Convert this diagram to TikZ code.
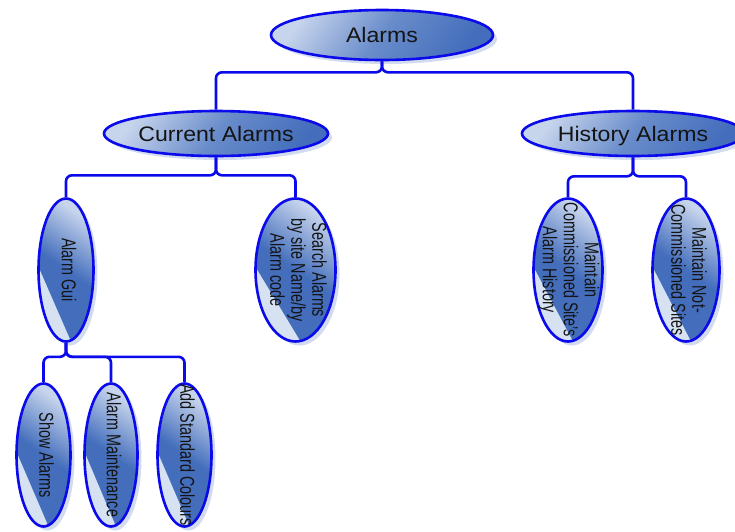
\documentclass[tikz,border=0pt]{standalone}
\usepackage{fontspec}
\setmainfont{Liberation Sans}
\usetikzlibrary{shapes.geometric,shadows}
\definecolor{bordc}{RGB}{10,10,235}
\definecolor{ltc}{RGB}{198,212,236}
\definecolor{mdc}{RGB}{105,140,202}
\definecolor{dkc}{RGB}{68,110,188}
\definecolor{shc}{RGB}{210,220,238}
\definecolor{hlc}{RGB}{214,225,242}
\definecolor{txtc}{RGB}{20,20,20}
\newcommand\htext{\fontsize{21}{25}\selectfont}
\newcommand\vtext{\fontsize{20}{21}\selectfont}
\newcommand\hwide[1]{\scalebox{1.1}[1]{#1}}
\newcommand\vlines[1]{\scalebox{0.72}[1]{\begin{tabular}{@{}c@{}}#1\end{tabular}}}
\begin{document}
\begin{tikzpicture}[x=1pt,y=-1pt,
 oval/.style={ellipse, draw=bordc, line width=2.6pt, inner sep=0pt,
   drop shadow={shadow xshift=4pt, shadow yshift=-4pt, fill=shc, opacity=1}},
 hoval/.style={oval, top color=ltc, bottom color=dkc, middle color=mdc, shading angle=55,
   font=\htext, text=txtc, text height=15pt, text depth=0pt},
 voval/.style={oval, top color=ltc, bottom color=dkc, middle color=dkc, shading angle=-35,
   path picture={\fill[hlc] ([yshift=3pt]path picture bounding box.west)
     -- ([xshift=5pt]path picture bounding box.south)
     -- ([xshift=-10pt,yshift=-10pt]path picture bounding box.south west) -- cycle;}},
 vlab/.style={rotate=-90, font=\vtext, text=txtc, inner sep=0pt},
 link/.style={draw=bordc, line width=2.6pt, rounded corners=6pt}
]
\useasboundingbox (0,0) rectangle (735,531);

\node[hoval, minimum width=222pt, minimum height=50pt] (alarms) at (382,35) {\hwide{Alarms}};
\node[hoval, minimum width=224pt, minimum height=45pt] (cur) at (216,133.5) {\hwide{Current Alarms}};
\node[hoval, minimum width=222pt, minimum height=45pt] (hist) at (633,133.5) {\hwide{History Alarms}};

\node[voval, minimum width=55pt, minimum height=143pt] (gui) at (66,270) {};
\node[voval, minimum width=80pt, minimum height=143pt] (search) at (295.5,270) {};
\node[voval, minimum width=69pt, minimum height=143pt] (mcs) at (568,270) {};
\node[voval, minimum width=67pt, minimum height=143pt] (mnc) at (686,270) {};
\node[voval, minimum width=54pt, minimum height=143pt] (show) at (43.5,455) {};
\node[voval, minimum width=53pt, minimum height=143pt] (maint) at (111,455) {};
\node[voval, minimum width=54pt, minimum height=143pt] (colours) at (184.5,455) {};

\node[vlab] (guit) at (gui) {\vlines{Alarm Gui}};
\node[vlab] (searcht) at (search) {\vlines{Search Alarms\\by site Name/by\\Alarm code}};
\node[vlab] (mcst) at (mcs) {\vlines{Maintain\\Commissioned Site’s\\Alarm History}};
\node[vlab] (mnct) at (mnc) {\vlines{Maintain Not-\\Commissioned Sites}};
\node[vlab] (showt) at (show) {\vlines{Show Alarms}};
\node[vlab] (maintt) at (maint) {\vlines{Alarm Maintenance}};
\node[vlab] (colourst) at (colours) {\vlines{Add Standard Colours}};

\draw[link] (alarms.south) -- ++(0,11) -| (cur.north);
\draw[link] (alarms.south) -- ++(0,11) -| (hist.north);
\draw[link] (cur.south) -- ++(0,18) -| (gui.north);
\draw[link] (cur.south) -- ++(0,18) -| (search.north);
\draw[link] (hist.south) -- ++(0,19) -| (mcs.north);
\draw[link] (hist.south) -- ++(0,19) -| (mnc.north);
\draw[link] (gui.south) -- ++(0,14) -| (show.north);
\draw[link] (gui.south) -- ++(0,14) -| (maint.north);
\draw[link] (gui.south) -- ++(0,14) -| (colours.north);
\end{tikzpicture}
\end{document}
